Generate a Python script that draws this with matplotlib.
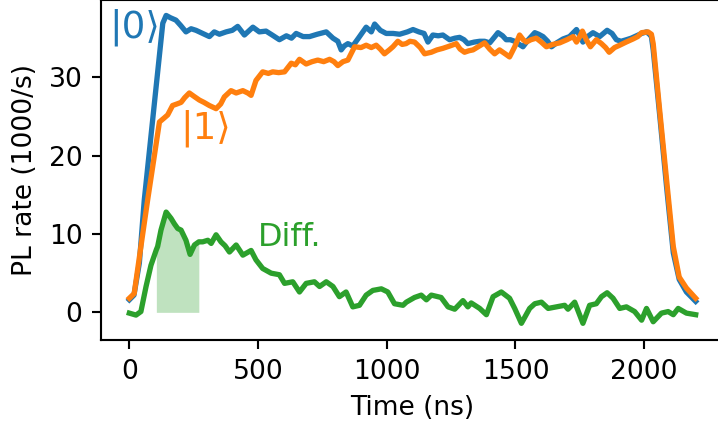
import numpy as np
import matplotlib
matplotlib.use("Agg")
import matplotlib.pyplot as plt

# |0> photoluminescence trace
t_ket0 = [0, 18, 39, 58, 100, 130, 143, 160, 181, 200, 220, 240, 259, 285, 311, 330, 350, 376,
          400, 421, 447, 480, 505, 531, 555, 583, 610, 630, 648, 675, 700, 730, 765, 791, 810,
          823, 835, 849, 868, 890, 920, 940, 953, 975, 998, 1025, 1050, 1080, 1102, 1125, 1145,
          1160, 1179, 1200, 1218, 1244, 1265, 1283, 1300, 1315, 1340, 1361, 1380, 1400, 1420,
          1432, 1450, 1464, 1480, 1497, 1515, 1529, 1550, 1575, 1590, 1607, 1625, 1640, 1660,
          1685, 1710, 1737, 1750, 1762, 1780, 1801, 1827, 1856, 1875, 1892, 1910, 1931, 1950,
          1970, 1990, 2009, 2020, 2028, 2035, 2061, 2087, 2113, 2136, 2164, 2200]
rate_ket0 = [1.6, 2.2, 6.3, 14.3, 27.5, 36.9, 37.9, 37.6, 37.3, 36.6, 35.8, 36.2, 36.0, 35.6, 35.2,
             35.8, 35.5, 35.8, 36.0, 36.5, 35.4, 36.4, 35.8, 35.9, 35.4, 34.8, 35.3, 35.0, 35.6,
             35.2, 35.2, 35.5, 35.8, 35.0, 34.6, 33.5, 34.0, 34.3, 34.0, 35.0, 36.4, 35.8, 36.8,
             36.0, 35.6, 35.6, 35.5, 35.8, 36.1, 35.8, 35.6, 34.5, 35.4, 35.3, 35.4, 34.8, 35.0,
             35.1, 34.8, 34.3, 34.5, 34.6, 34.6, 34.4, 35.2, 35.7, 35.3, 34.8, 34.8, 34.6, 34.2,
             33.9, 34.8, 35.7, 35.5, 35.2, 34.6, 33.9, 34.4, 34.9, 35.2, 36.1, 35.3, 34.5, 35.2,
             35.7, 35.2, 36.0, 35.6, 34.8, 34.6, 34.8, 35.0, 35.3, 35.6, 35.8, 35.5, 35.2, 33.5,
             24.9, 16.0, 7.6, 4.2, 2.6, 1.4]

# |1> photoluminescence trace
t_ket1 = [0, 19, 45, 71, 95, 117, 135, 149, 168, 185, 201, 215, 233, 250, 272, 290, 311, 337, 355,
          369, 395, 415, 441, 460, 473, 492, 518, 540, 557, 580, 603, 629, 645, 661, 687, 710,
          732, 755, 778, 795, 810, 830, 849, 875, 900, 920, 940, 959, 975, 991, 1010, 1024, 1043,
          1060, 1075, 1090, 1108, 1130, 1147, 1173, 1195, 1218, 1245, 1270, 1285, 1302, 1320,
          1335, 1360, 1380, 1400, 1419, 1438, 1460, 1477, 1497, 1516, 1530, 1542, 1560, 1581,
          1600, 1620, 1645, 1672, 1700, 1724, 1737, 1750, 1760, 1775, 1791, 1814, 1834, 1850,
          1864, 1885, 1905, 1930, 1957, 1975, 1990, 2015, 2028, 2035, 2061, 2087, 2113, 2136,
          2164, 2200]
rate_ket1 = [1.8, 2.4, 8.4, 14.3, 19.5, 24.3, 24.8, 25.2, 26.4, 26.6, 26.8, 27.4, 28.0, 27.6, 27.1,
             26.8, 26.4, 26.0, 26.6, 27.5, 28.3, 28.0, 28.3, 28.0, 27.7, 29.6, 30.7, 30.5, 30.7,
             30.6, 30.7, 31.8, 31.6, 32.3, 31.7, 32.0, 32.2, 32.0, 32.3, 32.0, 31.5, 32.0, 32.2,
             33.9, 33.8, 34.1, 33.8, 34.1, 33.6, 33.0, 33.5, 33.9, 34.6, 34.2, 34.3, 34.6, 34.5,
             33.8, 33.0, 33.2, 33.5, 33.7, 34.0, 34.3, 33.6, 33.2, 33.4, 33.5, 34.0, 34.4, 33.6,
             33.0, 33.5, 33.0, 32.6, 33.9, 35.4, 34.8, 34.5, 34.8, 35.0, 34.5, 33.9, 34.2, 34.4,
             34.8, 35.2, 34.5, 35.2, 35.9, 34.8, 33.9, 34.8, 34.3, 33.8, 33.2, 33.8, 34.1, 34.5,
             34.9, 35.2, 35.7, 35.8, 35.5, 34.3, 25.5, 16.9, 8.4, 4.5, 3.1, 1.8]

# Difference trace
t_diff = [0, 26, 45, 65, 84, 105, 110, 123, 143, 162, 175, 188, 201, 220, 236, 253, 270, 285, 305,
          318, 337, 356, 372, 389, 415, 441, 473, 492, 518, 551, 583, 603, 635, 661, 687, 719,
          739, 765, 791, 816, 842, 868, 894, 920, 946, 979, 1004, 1030, 1063, 1076, 1108, 1134,
          1154, 1173, 1211, 1238, 1264, 1296, 1315, 1328, 1361, 1387, 1413, 1445, 1477, 1497,
          1523, 1555, 1575, 1601, 1627, 1659, 1691, 1704, 1730, 1762, 1788, 1814, 1834, 1856,
          1879, 1905, 1931, 1963, 1990, 2009, 2035, 2067, 2093, 2113, 2132, 2164, 2200]
rate_diff = [-0.1, -0.35, 0.1, 3.3, 6.0, 8.0, 8.4, 10.5, 12.8, 12.0, 11.3, 10.7, 10.5, 9.2, 7.4,
             8.6, 9.0, 9.0, 9.2, 8.8, 9.9, 9.0, 8.5, 7.7, 8.6, 7.3, 7.9, 6.7, 5.6, 5.0, 4.8, 3.7,
             3.9, 2.6, 3.7, 3.9, 3.3, 3.9, 3.3, 2.0, 2.6, 0.7, 0.9, 2.2, 2.8, 3.0, 2.6, 1.1, 0.9,
             1.3, 1.9, 2.2, 1.6, 2.2, 1.9, 0.7, 0.4, 1.5, 0.7, 1.2, 0.5, -0.3, 2.0, 2.6, 1.8, 0.5,
             -1.4, 0.5, 1.1, 1.3, 0.5, 0.7, 0.9, 0.4, 1.3, -1.4, 0.9, 1.1, 2.0, 2.5, 1.8, 0.5,
             0.7, 0.1, -1.0, 0.5, -1.2, -0.1, 0.1, -0.3, 0.5, -0.1, -0.3]

# integration window for the readout contrast
window_start, window_end = 105, 270

fig = plt.figure(figsize=(718 / 191, 428 / 191), dpi=191)
ax = fig.add_axes([101 / 718, 88 / 428, 623 / 718, 340 / 428])

lw = 2.0
ax.plot(t_ket0, rate_ket0, color="C0", lw=lw)
ax.plot(t_ket1, rate_ket1, color="C1", lw=lw)
ax.plot(t_diff, rate_diff, color="C2", lw=lw)

td = np.asarray(t_diff)
rd = np.asarray(rate_diff)
sel = (td >= window_start) & (td <= window_end)
ax.fill_between(td[sel], 0, rd[sel], color="C2", alpha=0.3, lw=0)

ax.text(19, 36.4, "|0⟩", color="C0", fontsize=14, ha="center", va="center")
ax.text(298, 23.5, "|1⟩", color="C1", fontsize=14, ha="center", va="center")
ax.text(624, 9.55, "Diff.", color="C2", fontsize=12, ha="center", va="center")

ax.set_xlim(-110, 2310)
ax.set_ylim(-3.53, 39.87)
ax.set_xticks([0, 500, 1000, 1500, 2000])
ax.set_yticks([0, 10, 20, 30])
ax.set_xlabel("Time (ns)")
ax.set_ylabel("PL rate (1000/s)")

fig.savefig("out.png", dpi=191)
